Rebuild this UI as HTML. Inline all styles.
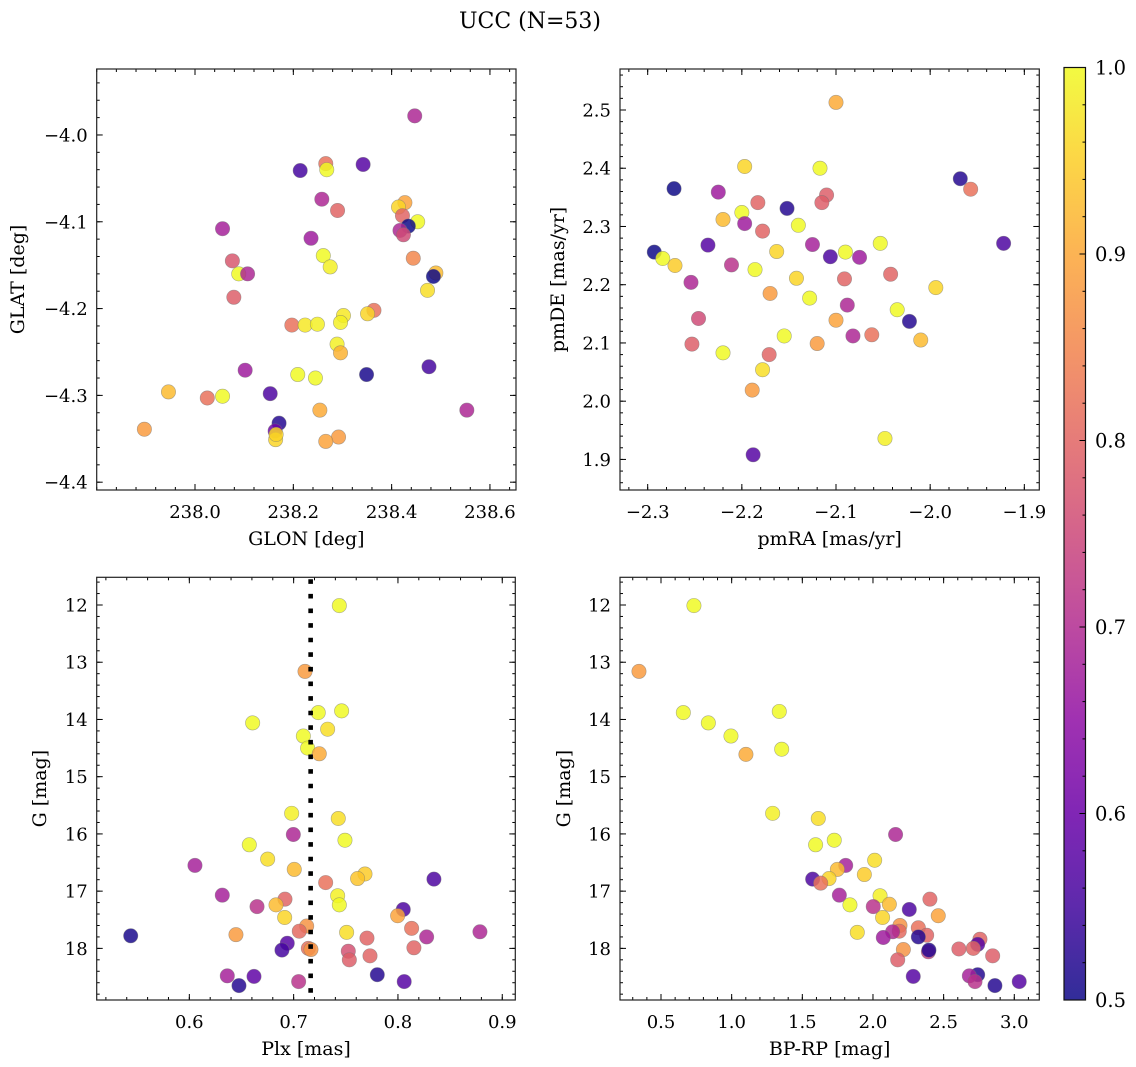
<!DOCTYPE html>
<html><head><meta charset="utf-8">
<style>
html,body{margin:0;padding:0;background:#fff;}
svg{display:block;font-family:"DejaVu Serif","Liberation Serif",serif;}
</style></head>
<body>
<svg id="fig" width="1136" height="1067" viewBox="0 0 1136 1067" xmlns="http://www.w3.org/2000/svg">
<text x="530" y="28" font-size="22" text-anchor="middle">UCC (N=53)</text>
</svg>
<script>
// ---- Panel 1: GLON / GLAT ----
const glonX = [238.447,238.214,238.266,238.268,238.342,238.258,238.290,238.427,238.414,238.422,238.453,238.434,238.417,238.424,238.056,238.236,238.076,238.089,238.107,238.079,238.261,238.275,238.444,238.490,238.485,238.473,238.364,238.351,238.302,238.296,238.197,238.224,238.249,238.289,238.296,238.102,238.209,238.245,238.349,238.476,237.946,238.025,238.056,238.153,238.553,238.254,238.171,238.163,238.164,237.897,238.292,238.266,238.165];
const glatY = [-3.978,-4.041,-4.033,-4.040,-4.034,-4.074,-4.087,-4.078,-4.083,-4.093,-4.100,-4.105,-4.110,-4.115,-4.108,-4.119,-4.145,-4.160,-4.160,-4.187,-4.139,-4.152,-4.142,-4.159,-4.163,-4.179,-4.202,-4.206,-4.208,-4.216,-4.219,-4.219,-4.218,-4.241,-4.251,-4.271,-4.276,-4.280,-4.276,-4.267,-4.296,-4.303,-4.301,-4.298,-4.317,-4.317,-4.332,-4.341,-4.351,-4.339,-4.348,-4.353,-4.345];
const glatC = [0.68,0.55,0.80,0.98,0.57,0.68,0.78,0.87,0.93,0.78,0.98,0.50,0.68,0.74,0.67,0.66,0.76,0.98,0.68,0.77,0.97,0.96,0.83,0.90,0.50,0.94,0.80,0.93,0.95,0.96,0.80,0.95,0.96,0.96,0.89,0.66,0.97,0.98,0.51,0.55,0.90,0.80,0.98,0.56,0.68,0.88,0.52,0.60,0.93,0.86,0.86,0.87,0.93];
// ---- Panel 2: pmRA / pmDE ----
const pmraX = [-2.100,-2.197,-2.117,-1.968,-1.957,-2.272,-2.225,-2.183,-2.110,-2.115,-2.152,-2.200,-2.220,-2.197,-2.140,-2.178,-2.236,-2.125,-2.053,-1.922,-2.293,-2.284,-2.271,-2.163,-2.106,-2.090,-2.075,-2.211,-2.186,-2.142,-2.091,-2.042,-2.254,-1.994,-2.170,-2.128,-2.088,-2.035,-2.022,-2.246,-2.100,-2.253,-2.220,-2.155,-2.120,-2.082,-2.062,-2.010,-2.171,-2.178,-2.189,-2.048,-2.188];
const pmdeY = [2.513,2.403,2.400,2.382,2.364,2.365,2.359,2.341,2.354,2.341,2.331,2.324,2.312,2.305,2.302,2.292,2.268,2.269,2.271,2.271,2.256,2.245,2.233,2.257,2.248,2.256,2.247,2.234,2.226,2.211,2.210,2.218,2.204,2.195,2.185,2.177,2.165,2.157,2.137,2.142,2.139,2.098,2.083,2.112,2.099,2.112,2.114,2.105,2.080,2.054,2.019,1.936,1.908];
const pmC = [0.88,0.93,0.98,0.52,0.80,0.50,0.66,0.78,0.77,0.77,0.52,0.97,0.90,0.66,0.98,0.78,0.57,0.67,0.97,0.56,0.50,0.97,0.92,0.93,0.56,0.97,0.66,0.70,0.97,0.93,0.78,0.78,0.68,0.93,0.86,0.97,0.68,0.97,0.52,0.74,0.87,0.77,0.97,0.98,0.86,0.68,0.80,0.90,0.78,0.94,0.86,0.96,0.57];
// ---- Panel 3: Plx / G ----
const plxX = [0.7438,0.7109,0.7236,0.746,0.6607,0.7326,0.7093,0.7134,0.7246,0.6981,0.7428,0.6997,0.7492,0.6575,0.6751,0.6054,0.7006,0.7684,0.7613,0.8345,0.7307,0.6316,0.7422,0.6917,0.7438,0.6649,0.6831,0.8051,0.7997,0.6914,0.7125,0.7054,0.8131,0.7508,0.8786,0.5438,0.6447,0.8275,0.7703,0.6939,0.6888,0.7141,0.7166,0.8153,0.7524,0.7534,0.7732,0.7802,0.6364,0.662,0.806,0.7048,0.6476];
const plxG = [12.01,13.16,13.88,13.85,14.06,14.17,14.29,14.50,14.60,15.64,15.73,16.01,16.11,16.19,16.44,16.55,16.62,16.70,16.78,16.79,16.85,17.07,17.08,17.14,17.24,17.27,17.24,17.32,17.43,17.46,17.61,17.70,17.65,17.72,17.71,17.78,17.76,17.80,17.82,17.91,18.03,18.00,18.02,17.99,18.05,18.20,18.13,18.46,18.48,18.49,18.58,18.58,18.65];
const plxC = [0.98,0.86,0.97,0.97,0.97,0.94,0.97,0.98,0.88,0.96,0.94,0.68,0.98,0.97,0.94,0.67,0.90,0.92,0.91,0.56,0.80,0.67,0.96,0.78,0.97,0.70,0.90,0.56,0.87,0.93,0.85,0.79,0.80,0.94,0.68,0.51,0.86,0.68,0.78,0.57,0.55,0.80,0.85,0.78,0.75,0.77,0.78,0.52,0.67,0.58,0.57,0.70,0.52];
const plxMedian = [0.7163];
// ---- Panel 4: BP-RP / G ----
const bprpX = [0.733,0.344,0.658,0.835,0.995,1.101,1.337,1.354,1.290,1.613,2.160,1.726,1.594,2.012,1.807,1.748,1.939,1.689,1.573,1.630,2.050,1.762,2.403,1.837,2.116,2.002,2.257,2.462,2.068,2.191,1.889,2.186,2.321,2.139,2.073,2.380,2.321,2.757,2.741,2.710,2.608,2.215,2.392,2.396,2.847,2.175,2.285,2.741,2.682,2.722,3.035,2.863];
const bprpG = [12.01,13.16,13.88,14.06,14.29,14.61,13.86,14.52,15.64,15.73,16.01,16.11,16.19,16.46,16.55,16.62,16.71,16.78,16.79,16.86,17.08,17.07,17.14,17.24,17.23,17.27,17.32,17.43,17.46,17.60,17.72,17.70,17.64,17.71,17.81,17.77,17.80,17.84,17.93,18.00,18.01,18.02,18.06,18.03,18.13,18.20,18.49,18.46,18.48,18.58,18.58,18.65];
const bprpC = [0.98,0.86,0.97,0.97,0.97,0.88,0.97,0.97,0.96,0.94,0.68,0.98,0.97,0.94,0.67,0.90,0.92,0.93,0.56,0.80,0.96,0.67,0.78,0.97,0.90,0.70,0.56,0.87,0.93,0.85,0.94,0.79,0.80,0.68,0.66,0.78,0.52,0.78,0.57,0.78,0.77,0.85,0.72,0.52,0.77,0.77,0.57,0.52,0.67,0.70,0.57,0.52];
// tick labels
const p1XTicks = [238.0,238.2,238.4,238.6];
const p1YTicks = [-4.0,-4.1,-4.2,-4.3,-4.4];
const p2XTicks = [-2.3,-2.2,-2.1,-2.0,-1.9];
const p2YTicks = [1.9,2.0,2.1,2.2,2.3,2.4,2.5];
const p3XTicks = [0.6,0.7,0.8,0.9];
const gTicks = [12,13,14,15,16,17,18];
const p4XTicks = [0.5,1.0,1.5,2.0,2.5,3.0];
const cbTicks = [0.5,0.6,0.7,0.8,0.9,1.0];

const NS = "http://www.w3.org/2000/svg";
const svg = document.getElementById('fig');
function mk(tag, attrs, parent){
  const e = document.createElementNS(NS, tag);
  for (const k in attrs) e.setAttribute(k, attrs[k]);
  (parent||svg).appendChild(e);
  return e;
}
const stops = ["#0d0887","#41049d","#6a00a8","#8f0da4","#b12a90","#cc4778","#e16462","#f2844b","#fca636","#fcce25","#f0f921"];
function hex(h){return [parseInt(h.substr(1,2),16),parseInt(h.substr(3,2),16),parseInt(h.substr(5,2),16)];}
function plasma(t){
  t=Math.max(0,Math.min(1,t));
  const f=t*10, i=Math.min(9,Math.floor(f)), r=f-i;
  const a=hex(stops[i]), b=hex(stops[i+1]);
  return "rgb("+a.map((v,k)=>Math.round(v+(b[k]-v)*r)).join(",")+")";
}
function cnorm(c){return Math.min(1,(c-0.5)/0.47);}
function fmt(v,d){const s=v.toFixed(d);return s.replace('-','\u2212');}

function panel(cfg){
  const {name,L,R,T,B,xmin,xmax,ymin,ymax,invert,xt,yt,xd,yd,xminor,yminor,xlabel,ylabel,ylabelX,xs,ys,cs} = cfg;
  const g = mk('g',{});
  
  
  const sx = v => L + (v - xmin)/(xmax - xmin)*(R-L);
  const sy = invert ? (v => T + (v - ymin)/(ymax - ymin)*(B-T)) : (v => B - (v - ymin)/(ymax - ymin)*(B-T));
  const tg = mk('g',{stroke:'#000','stroke-width':1},g);
  function xtick(v,len){const x=sx(v); if(x<L-0.5||x>R+0.5)return; mk('line',{x1:x,x2:x,y1:B,y2:B-len},tg); mk('line',{x1:x,x2:x,y1:T,y2:T+len},tg);}
  function ytick(v,len){const y=sy(v); if(y<T-0.5||y>B+0.5)return; mk('line',{x1:L,x2:L+len,y1:y,y2:y},tg); mk('line',{x1:R,x2:R-len,y1:y,y2:y},tg);}
  const k0=Math.ceil(xmin/xminor-1e-6), k1=Math.floor(xmax/xminor+1e-6);
  for(let k=k0;k<=k1;k++) xtick(k*xminor,3);
  const j0=Math.ceil(Math.min(ymin,ymax)/yminor-1e-6), j1=Math.floor(Math.max(ymin,ymax)/yminor+1e-6);
  for(let k=j0;k<=j1;k++) ytick(k*yminor,3);
  xt.forEach(v=>{xtick(v,6);
    const t=mk('text',{x:sx(v),y:B+28,'font-size':18,'text-anchor':'middle'},g); t.textContent=fmt(v,xd);
     });
  yt.forEach(v=>{ytick(v,6);
    const t=mk('text',{x:L-9,y:sy(v)+6.5,'font-size':18,'text-anchor':'end'},g); t.textContent=fmt(v,yd);
     });
  const pg = mk('g',{},g);
  
  
  for(let i=0;i<xs.length;i++){
    const c = mk('circle',{cx:sx(xs[i]),cy:sy(ys[i]),r:7.2,fill:plasma(cnorm(cs[i])),'fill-opacity':0.84,stroke:'#777','stroke-opacity':0.6,'stroke-width':0.6},pg);
    
    
  }
  if(cfg.vline!==undefined){
    const l=mk('line',{x1:sx(cfg.vline),x2:sx(cfg.vline),y1:T+2,y2:B,stroke:'#000','stroke-width':4.6,'stroke-dasharray':'4.6 10'},g);
    
    
  }
  const fr = mk('rect',{x:L,y:T,width:R-L,height:B-T,fill:'none',stroke:'#222','stroke-width':1.2},g);
  
  
  const xl = mk('text',{x:(L+R)/2,y:B+55,'font-size':19,'text-anchor':'middle'},g); xl.textContent=xlabel;
   
  const cy=(T+B)/2;
  const yl = mk('text',{x:ylabelX,y:cy,'font-size':19,'text-anchor':'middle',transform:'rotate(-90 '+ylabelX+' '+cy+')'},g); yl.textContent=ylabel;
   
}

panel({name:'glon-glat-panel',L:96.7,R:516,T:69,B:490,xmin:237.80,xmax:238.653,ymin:-4.409,ymax:-3.924,invert:false,
  xt:p1XTicks,yt:p1YTicks,xd:1,yd:1,xminor:0.04,yminor:0.02,xlabel:'GLON [deg]',ylabel:'GLAT [deg]',ylabelX:24,xs:glonX,ys:glatY,cs:glatC});
panel({name:'pm-panel',L:620,R:1039.3,T:69,B:490,xmin:-2.3294,xmax:-1.8841,ymin:1.8475,ymax:2.5704,invert:false,
  xt:p2XTicks,yt:p2YTicks,xd:1,yd:1,xminor:0.02,yminor:0.02,xlabel:'pmRA [mas/yr]',ylabel:'pmDE [mas/yr]',ylabelX:564,xs:pmraX,ys:pmdeY,cs:pmC});
panel({name:'plx-g-panel',L:96.7,R:515.3,T:577.3,B:1000,xmin:0.5112,xmax:0.9125,ymin:11.516,ymax:18.902,invert:true,
  xt:p3XTicks,yt:gTicks,xd:1,yd:0,xminor:0.02,yminor:0.2,xlabel:'Plx [mas]',ylabel:'G [mag]',ylabelX:46,xs:plxX,ys:plxG,cs:plxC,vline:plxMedian[0]});
panel({name:'cmd-panel',L:620,R:1039.3,T:577.3,B:1000,xmin:0.2098,xmax:3.177,ymin:11.516,ymax:18.902,invert:true,
  xt:p4XTicks,yt:gTicks,xd:1,yd:0,xminor:0.1,yminor:0.2,xlabel:'BP-RP [mag]',ylabel:'G [mag]',ylabelX:570,xs:bprpX,ys:bprpG,cs:bprpC});

// colorbar
const cb = mk('g',{});


const defs = mk('defs',{},cb);
const lg = mk('linearGradient',{id:'cbg',x1:0,y1:1,x2:0,y2:0},defs);
for(let i=0;i<=20;i++){mk('stop',{offset:(i/20),'stop-color':plasma(i/20),'stop-opacity':0.85},lg);}
const CBL=1064,CBR=1085.5,CBT=67.5,CBB=1000;
const cbr = mk('rect',{x:CBL,y:CBT,width:CBR-CBL,height:CBB-CBT,fill:'url(#cbg)',stroke:'#111','stroke-width':1.2},cb);


const cy = v => CBB - (v-0.5)/0.5*(CBB-CBT);
for(let k=25;k<=50;k++){const v=k*0.02, y=cy(v); const major=(k%5===0);
  if(k===25||k===50)continue;
  mk('line',{x1:CBR,x2:CBR-(major?6:3),y1:y,y2:y,stroke:'#000','stroke-width':1},cb);}
cbTicks.forEach(v=>{const t=mk('text',{x:1095,y:cy(v)+7,'font-size':19.5},cb); t.textContent=v.toFixed(1);
   });
</script>
</body></html>
